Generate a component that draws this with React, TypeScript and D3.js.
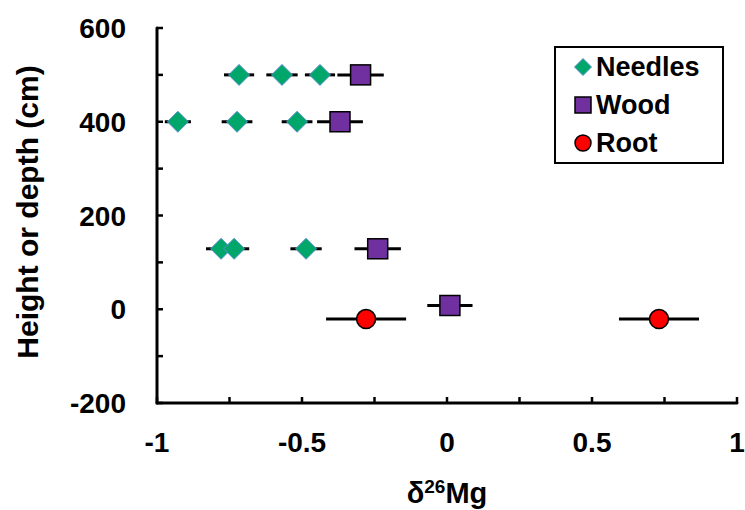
import React from "react";
import * as d3 from "d3";

const needlesX = [-0.717, -0.569, -0.438, -0.928, -0.724, -0.517, -0.779, -0.734, -0.486];
const needlesY = [500, 500, 500, 400, 400, 400, 129, 129, 129];
const needlesErr = [0.052, 0.054, 0.052, 0.045, 0.053, 0.053, 0.052, 0.052, 0.054];

const woodX = [-0.298, -0.369, -0.239, 0.01];
const woodY = [500, 400, 129, 8];
const woodErr = [0.08, 0.079, 0.08, 0.078];

const rootX = [-0.279, 0.731];
const rootY = [-21, -21];
const rootErr = [0.138, 0.138];

const xTickLabels = [-1, -0.5, 0, 0.5, 1];
const xMinorTicks = [-1, -0.75, -0.5, -0.25, 0, 0.25, 0.5, 0.75, 1];
const yTickLabels = [-200, 0, 200, 400, 600];
const yMinorTicks = [-200, -100, 0, 100, 200, 300, 400, 500, 600];

const legendItems = ["Needles", "Wood", "Root"];

const GREEN = "#00a66a";
const PURPLE = "#7030a0";
const RED = "#ff0000";
const FONT = "'Liberation Sans', Arial, sans-serif";

export default function App() {
  const x = d3.scaleLinear().domain([-1, 1]).range([157, 737]);
  const y = d3.scaleLinear().domain([-200, 600]).range([403, 28]);
  const tick = 6;

  const diamond = (cx: number, cy: number, r: number) =>
    `M${cx},${cy - r}L${cx + r},${cy}L${cx},${cy + r}L${cx - r},${cy}Z`;

  const errBar = (v: number, e: number, yy: number, key: string) => (
    <line key={key} x1={x(v - e)} x2={x(v + e)} y1={y(yy)} y2={y(yy)} stroke="#000" strokeWidth={3} />
  );

  const fmt = (v: number) => (v === 0 ? "0" : String(v));

  return (
    <svg width={745} height={510} style={{ position: "absolute", left: 0, top: 0, background: "#fff" }} fontFamily={FONT}>
      {/* axes */}
      <line x1={x(-1)} x2={x(-1)} y1={y(600)} y2={y(-200)} stroke="#000" strokeWidth={3} strokeLinecap="round" />
      <line x1={x(-1)} x2={x(1)} y1={y(-200)} y2={y(-200)} stroke="#000" strokeWidth={3} strokeLinecap="round" />
      {xMinorTicks.map((t) => (
        <line key={"xt" + t} x1={x(t)} x2={x(t)} y1={y(-200)} y2={y(-200) - tick} stroke="#000" strokeWidth={2.5} />
      ))}
      {yMinorTicks.map((t) => (
        <line key={"yt" + t} x1={x(-1)} x2={x(-1) + tick} y1={y(t)} y2={y(t)} stroke="#000" strokeWidth={2.5} />
      ))}
      {xTickLabels.map((t) => (
        <text key={"xl" + t} x={x(t)} y={452} textAnchor="middle" fontSize={28} fontWeight="bold" fill="#000">
          {fmt(t)}
        </text>
      ))}
      {yTickLabels.map((t) => (
        <text key={"yl" + t} x={126} y={y(t) + 10} textAnchor="end" fontSize={28} fontWeight="bold" fill="#000">
          {fmt(t)}
        </text>
      ))}
      <text x={447} y={503} textAnchor="middle" fontSize={29} fontWeight="bold" fill="#000">
        δ<tspan fontSize={19} dy={-10}>26</tspan>
        <tspan dy={10}>Mg</tspan>
      </text>
      <text
        transform="translate(38,212) rotate(-90)"
        textAnchor="middle"
        fontSize={30}
        fontWeight="bold"
        fill="#000"
      >
        Height or depth (cm)
      </text>

      {/* error bars */}
      {needlesX.map((v, i) => errBar(v, needlesErr[i], needlesY[i], "ne" + i))}
      {woodX.map((v, i) => errBar(v, woodErr[i], woodY[i], "we" + i))}
      {rootX.map((v, i) => errBar(v, rootErr[i], rootY[i], "re" + i))}

      {/* markers */}
      {needlesX.map((v, i) => (
        <path key={"n" + i} d={diamond(x(v), y(needlesY[i]), 10.5)} fill={GREEN} stroke="#5b8fd0" strokeWidth={1} />
      ))}
      {woodX.map((v, i) => (
        <rect key={"w" + i} x={x(v) - 10} y={y(woodY[i]) - 10} width={20} height={20} fill={PURPLE} stroke="#000" strokeWidth={1.5} />
      ))}
      {rootX.map((v, i) => (
        <circle key={"r" + i} cx={x(v)} cy={y(rootY[i])} r={9.5} fill={RED} stroke="#000" strokeWidth={1.5} />
      ))}

      {/* legend */}
      <rect x={555} y={47} width={168} height={116} fill="#fff" stroke="#000" strokeWidth={2} />
      {legendItems.map((name, i) => {
        const cy = 67 + i * 38;
        const cx = 583;
        let marker;
        if (i === 0) marker = <path d={diamond(cx, cy, 8.5)} fill={GREEN} stroke="#5b8fd0" strokeWidth={1} />;
        else if (i === 1) marker = <rect x={cx - 8} y={cy - 8} width={16} height={16} fill={PURPLE} stroke="#000" strokeWidth={1.5} />;
        else marker = <circle cx={cx} cy={cy} r={8} fill={RED} stroke="#000" strokeWidth={1.5} />;
        return (
          <g key={name}>
            {marker}
            <text x={596} y={cy + 9} fontSize={27} fontWeight="bold" fill="#000">
              {name}
            </text>
          </g>
        );
      })}
    </svg>
  );
}
